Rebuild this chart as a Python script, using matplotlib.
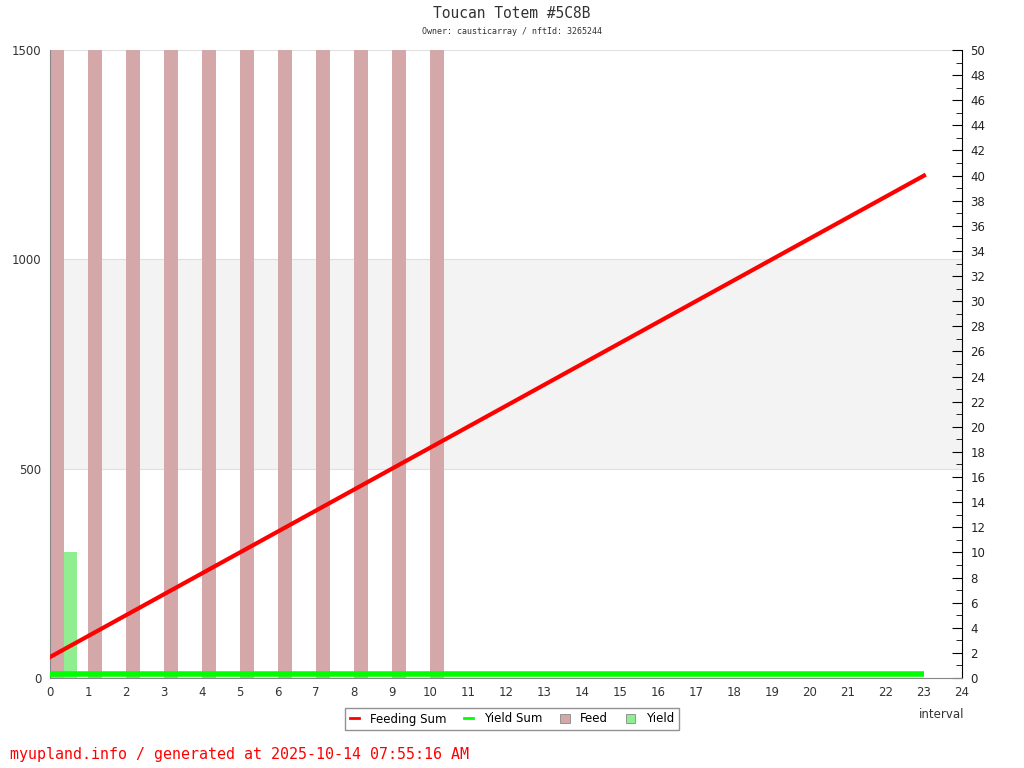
import numpy as np
import matplotlib
matplotlib.use("Agg")
import matplotlib.pyplot as plt
from matplotlib.patches import Patch
from matplotlib.lines import Line2D

intervals = list(range(24))
feed = [50, 50, 50, 50, 50, 50, 50, 50, 50, 50, 50] + [0] * 13
yield_vals = [10] + [0] * 23
feeding_sum = [50 * (i + 1) for i in intervals]
yield_sum = [10] * 24

fig = plt.figure(figsize=(10.24, 7.68), dpi=100)
ax = fig.add_axes([50 / 1024, 90 / 768, 912 / 1024, 628 / 768])
ax2 = ax.twinx()

# left axis lines drawn over the bars, so bars & band live on ax2
ax.set_zorder(ax2.get_zorder() + 1)
ax.patch.set_visible(False)

ax2.axhspan(500 / 30, 1000 / 30, color="#f3f3f3", zorder=0, lw=0)
for yv in [500, 1000, 1500]:
    ax2.axhline(yv / 30, color="#e0e0e0", lw=0.8, zorder=0.5)

x = np.array(intervals)
bw = 0.36
ax2.bar(x + bw / 2, feed, width=bw, color="#d4a8a8", zorder=2)
ax2.bar(x + bw * 1.5, yield_vals, width=bw, color="#90ee90", zorder=2)

ax.plot(x, feeding_sum, color="#ff0000", lw=3, zorder=3)
ax.plot(x, yield_sum, color="#00ff00", lw=4, zorder=3, solid_capstyle="butt")

ax.set_xlim(0, 24)
ax.set_ylim(0, 1500)
ax2.set_ylim(0, 50)

ax.set_xticks(range(25))
ax.set_yticks([0, 500, 1000, 1500])
ax.tick_params(axis="both", length=0, labelsize=8.5, labelcolor="#333333", pad=6)
ax2.set_yticks(range(0, 51, 2))
ax2.set_yticks(range(1, 50, 2), minor=True)
ax2.tick_params(axis="y", which="major", direction="in", length=7, labelsize=8.5, pad=6, labelcolor="#222222")
ax2.tick_params(axis="y", which="minor", direction="in", length=4)

for a in (ax, ax2):
    a.spines["top"].set_visible(False)
ax.spines["left"].set_color("#888888")
ax.spines["bottom"].set_color("#888888")
ax.spines["right"].set_visible(False)
ax2.spines["left"].set_visible(False)
ax2.spines["bottom"].set_visible(False)
ax2.spines["right"].set_color("black")

fig.text(942 / 1024, 1 - 714 / 768, "interval", ha="center", va="center", fontsize=8.5, color="#333333")

fig.text(0.5, 1 - 14 / 768, "Toucan Totem #5C8B", ha="center", va="center",
         family="DejaVu Sans Mono", fontsize=10.5, color="#333333")
fig.text(0.5, 1 - 31 / 768, "Owner: causticarray / nftId: 3265244", ha="center", va="center",
         family="DejaVu Sans Mono", fontsize=6, color="#333333")
fig.text(10 / 1024, 1 - 754 / 768, "myupland.info / generated at 2025-10-14 07:55:16 AM",
         ha="left", va="center", family="DejaVu Sans Mono", fontsize=10.8, color="#ff0000")

handles = [
    Line2D([], [], color="#ff0000", lw=2),
    Line2D([], [], color="#00ff00", lw=2),
    Patch(facecolor="#d4a8a8", edgecolor="#888888", lw=0.6),
    Patch(facecolor="#90ee90", edgecolor="#888888", lw=0.6),
]
leg = fig.legend(handles, ["Feeding Sum", "Yield Sum", "Feed", "Yield"], loc="center",
                 bbox_to_anchor=(512 / 1024, 1 - 719 / 768), ncol=4, fontsize=8.5,
                 frameon=True, fancybox=False, handlelength=0.8, handleheight=0.7,
                 columnspacing=1.5, handletextpad=0.9, borderpad=0.4)
leg.get_frame().set_edgecolor("#777777")
leg.get_frame().set_linewidth(1)

fig.savefig("out.png", dpi=100)
